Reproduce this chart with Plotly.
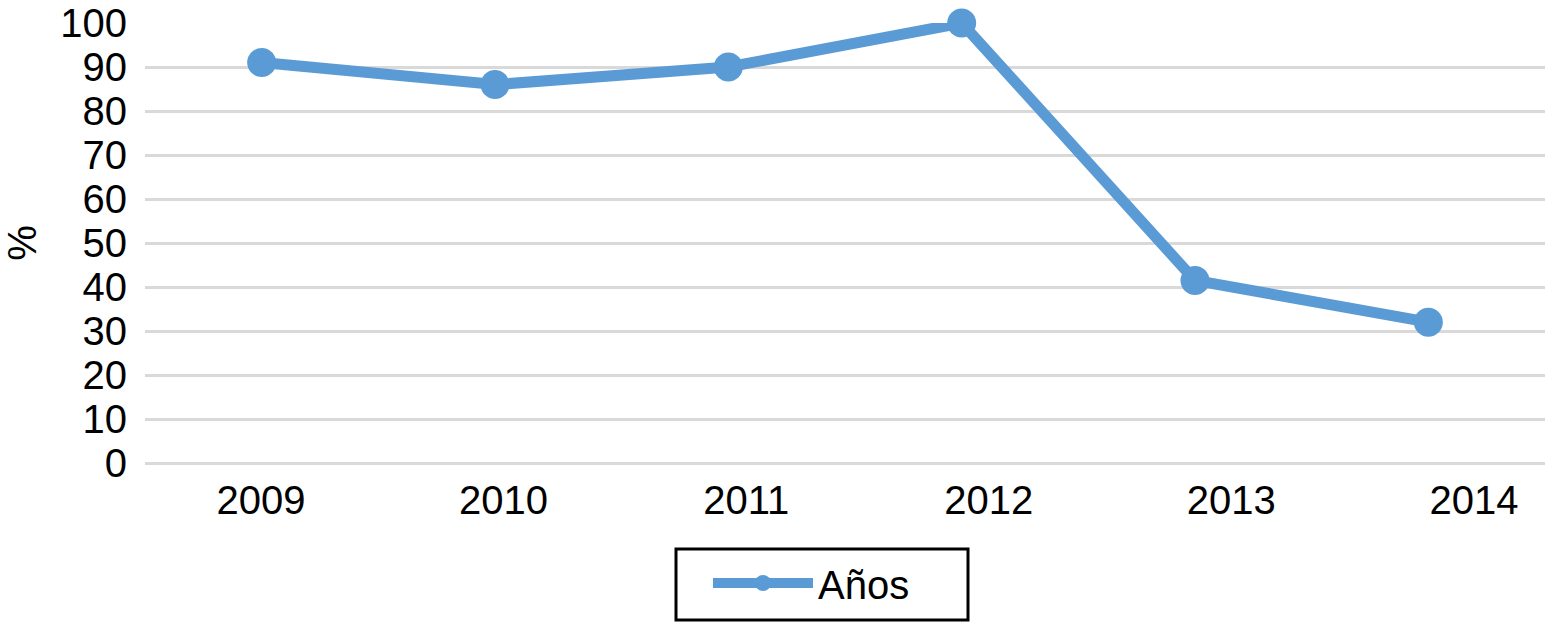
import plotly.graph_objects as go

years = ["2009", "2010", "2011", "2012", "2013", "2014"]
values = [91, 86, 90, 100, 41.5, 32]
series_name = "Años"
y_ticks = [0, 10, 20, 30, 40, 50, 60, 70, 80, 90, 100]

blue = "#5B9BD5"
font_family = "Liberation Sans, Arial, Helvetica, sans-serif"
idx = list(range(len(years)))

fig = go.Figure()
fig.add_trace(go.Scatter(
    x=idx, y=values, name=series_name, mode="lines+markers",
    line=dict(color=blue, width=11),
    marker=dict(color=blue, size=29),
    cliponaxis=False, xaxis="x", yaxis="y",
))
# invisible companion trace carrying the category label axis
fig.add_trace(go.Scatter(
    x=idx, y=values, mode="markers", showlegend=False, hoverinfo="skip",
    marker=dict(opacity=0), xaxis="x2", yaxis="y",
))

fig.update_layout(
    width=1547, height=623,
    margin=dict(l=145, r=2, t=23, b=160, autoexpand=False),
    paper_bgcolor="white", plot_bgcolor="white",
    font=dict(family=font_family, size=40, color="black"),
    showlegend=True,
    legend=dict(
        orientation="h", x=(708 - 145) / 1400, xanchor="left",
        y=-(583 - 463) / 440, yanchor="middle",
        borderwidth=0, bgcolor="rgba(0,0,0,0)",
        font=dict(size=40, family=font_family, color="black"),
        itemwidth=100,
    ),
    shapes=[dict(
        type="rect", xref="paper", yref="paper",
        x0=(676 - 145) / 1400, x1=(968 - 145) / 1400,
        y0=-(620 - 463) / 440, y1=-(549 - 463) / 440,
        line=dict(color="black", width=3), fillcolor="rgba(0,0,0,0)",
    )],
    xaxis=dict(
        range=[-0.5, 5.5], showticklabels=False, showgrid=False,
        zeroline=False, showline=False, ticks="", automargin=False,
    ),
    xaxis2=dict(
        overlaying="x", side="bottom", range=[-0.478, 5.293],
        tickmode="array", tickvals=idx, ticktext=years,
        showgrid=False, zeroline=False, showline=False, ticks="",
        ticklabelstandoff=10, automargin=False,
        tickfont=dict(size=40, family=font_family, color="black"),
    ),
    yaxis=dict(
        range=[0, 100], tickmode="array", tickvals=y_ticks,
        showgrid=True, gridcolor="#d9d9d9", gridwidth=3,
        zeroline=True, zerolinecolor="#d9d9d9", zerolinewidth=3,
        showline=False, ticks="", automargin=False,
        ticklabelstandoff=17,
        tickfont=dict(size=40, family=font_family, color="black"),
        title=dict(text="%", font=dict(size=40, family=font_family, color="black"), standoff=30),
    ),
)

fig.write_html(
    "out.html",
    config={"displayModeBar": False},
    post_script="document.body.style.margin='0';",
)
